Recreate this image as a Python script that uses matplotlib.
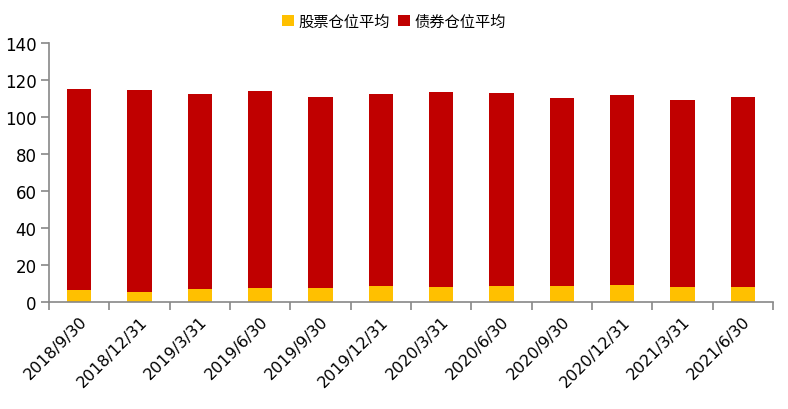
import matplotlib
matplotlib.use("Agg")
import matplotlib.pyplot as plt
import numpy as np

plt.rcParams['font.family'] = ['Noto Sans CJK SC', 'DejaVu Sans']

categories = ["2018/9/30", "2018/12/31", "2019/3/31", "2019/6/30", "2019/9/30", "2019/12/31",
              "2020/3/31", "2020/6/30", "2020/9/30", "2020/12/31", "2021/3/31", "2021/6/30"]
stock = [6.6, 5.6, 7.2, 7.7, 7.7, 8.8, 8.3, 8.8, 8.8, 9.4, 8.3, 8.3]
total = [115.3, 114.8, 112.6, 114.2, 111.0, 112.6, 113.7, 113.1, 110.4, 112.1, 109.4, 111.0]
bond = [t - s for t, s in zip(total, stock)]
series_names = ["股票仓位平均", "债券仓位平均"]
yticks = [0, 20, 40, 60, 80, 100, 120, 140]

fig = plt.figure(figsize=(7.88, 4.10), dpi=100)
ax = fig.add_axes([49/788, 1 - 303.3/410, (773-49)/788, (303.3-44)/410])

x = np.arange(len(categories))
w = 0.4
ax.bar(x, stock, width=w, color="#FFC000", label=series_names[0])
ax.bar(x, bond, width=w, bottom=stock, color="#C00000", label=series_names[1])

ax.set_xlim(-0.5, len(categories) - 0.5)
ax.set_ylim(0, 140)
ax.set_yticks(yticks)
ax.set_yticklabels([str(v) for v in yticks], fontsize=12, family=['DejaVu Sans'])
ax.set_xticks(np.arange(len(categories) + 1) - 0.5, minor=False)
ax.set_xticklabels([])
ax.set_xticks(x, minor=True)
ax.set_xticklabels(categories, minor=True, rotation=45, ha='right', va='top',
                   fontsize=11.5, family=['DejaVu Sans'], rotation_mode='anchor')
ax.tick_params(axis='x', which='minor', length=0, pad=8)
ax.tick_params(axis='x', which='major', length=6, color='#888888', width=1.2)
ax.tick_params(axis='y', length=6, color='#888888', width=1.2, pad=3)
for s in ['top', 'right']:
    ax.spines[s].set_visible(False)
for s in ['left', 'bottom']:
    ax.spines[s].set_color('#888888')
    ax.spines[s].set_linewidth(1.2)

fig.legend(loc='upper center', bbox_to_anchor=(0.5, 1.0), ncol=2, frameon=False,
           fontsize=11, handlelength=0.8, handleheight=0.8, handletextpad=0.3,
           columnspacing=0.5)

fig.savefig("out.png", dpi=100)
